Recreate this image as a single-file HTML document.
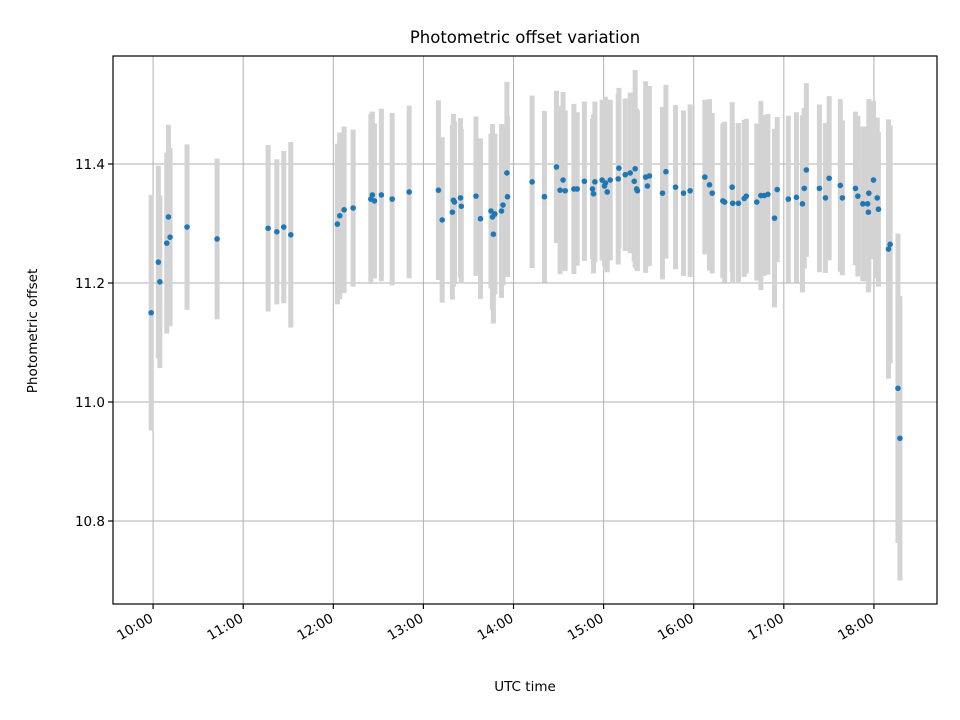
<!DOCTYPE html>
<html><head><meta charset="utf-8"><style>
body{margin:0;background:#fff}
svg{display:block;font-family:"DejaVu Sans","Liberation Sans",sans-serif}
</style></head><body>
<svg id="chart" width="960" height="720" viewBox="0 0 960 720">
<rect x="0" y="0" width="960" height="720" fill="#fff"/>
<g id="grid"></g>
<g id="bars"></g>
<g id="pts"></g>
<rect x="113" y="56" width="824" height="548" fill="none" stroke="#000" stroke-width="1.2"/>
<g id="axes"></g>
<text x="525" y="43" text-anchor="middle" font-size="16.5">Photometric offset variation</text>
<text x="525" y="691" text-anchor="middle" font-size="13.5">UTC time</text>
<text x="37" y="331" text-anchor="middle" font-size="13.5" transform="rotate(-90 37 331)">Photometric offset</text>
</svg>
<script>
// time in minutes of day (UTC)
const times=[598.7,603.5,604.5,609.1,610.2,611.3,622.6,642.6,676.6,682.4,687,691.7,722.7,724.3,727.2,733.2,745,746,747.4,752,759.2,770.5,790,792.5,799.3,800,800.7,804.7,805.2,815,818,825,826,826.6,827.6,832,833,835.6,836,852.4,860.6,868.6,871,873,874.4,880.2,882.4,887.2,892.6,893.3,894.2,899,900.6,901.2,902.4,904.4,909.7,910.2,914.4,917.7,921,920.4,922,922.5,928,929.2,930.5,939.2,941.5,947.9,953.2,957.6,967.4,970.5,972.3,979.4,980.6,985.6,986,989.8,993.6,995,1002,1004.7,1007,1009.4,1013.8,1015.6,1023,1028.4,1032.4,1033.6,1035,1043.7,1047.7,1050.2,1057.6,1059,1067.7,1069.3,1072.6,1076.6,1076.3,1075.8,1079.7,1082.2,1083,1089.7,1090.8,1096,1097.3];
const offsets=[11.150,11.235,11.202,11.267,11.311,11.277,11.294,11.274,11.292,11.286,11.294,11.281,11.299,11.313,11.323,11.326,11.341,11.348,11.338,11.348,11.341,11.353,11.356,11.306,11.319,11.339,11.336,11.343,11.329,11.346,11.308,11.321,11.311,11.282,11.316,11.321,11.331,11.385,11.345,11.370,11.345,11.395,11.356,11.373,11.355,11.358,11.358,11.371,11.358,11.350,11.370,11.373,11.363,11.368,11.353,11.373,11.375,11.393,11.382,11.385,11.392,11.371,11.358,11.355,11.378,11.363,11.380,11.351,11.387,11.361,11.351,11.355,11.378,11.365,11.351,11.338,11.336,11.361,11.334,11.334,11.342,11.346,11.336,11.347,11.347,11.349,11.309,11.357,11.341,11.344,11.333,11.359,11.390,11.359,11.343,11.376,11.364,11.343,11.359,11.346,11.333,11.351,11.319,11.333,11.373,11.343,11.324,11.257,11.265,11.023,10.939];
const errors=[0.198,0.162,0.145,0.152,0.155,0.150,0.139,0.135,0.140,0.122,0.128,0.156,0.135,0.140,0.140,0.132,0.143,0.140,0.130,0.145,0.145,0.145,0.151,0.139,0.147,0.145,0.135,0.134,0.130,0.134,0.135,0.130,0.156,0.150,0.135,0.146,0.135,0.153,0.135,0.145,0.144,0.128,0.141,0.148,0.135,0.143,0.129,0.134,0.118,0.134,0.135,0.135,0.135,0.145,0.135,0.135,0.144,0.135,0.128,0.135,0.166,0.135,0.135,0.135,0.161,0.135,0.151,0.145,0.146,0.138,0.139,0.145,0.130,0.144,0.135,0.130,0.135,0.143,0.135,0.135,0.132,0.130,0.132,0.159,0.135,0.135,0.150,0.122,0.140,0.143,0.149,0.135,0.146,0.141,0.126,0.138,0.145,0.130,0.129,0.135,0.130,0.158,0.135,0.130,0.133,0.135,0.130,0.218,0.200,0.260,0.239];
const yTicks=[10.8,11.0,11.2,11.4];
const xTickLabels=["10:00","11:00","12:00","13:00","14:00","15:00","16:00","17:00","18:00"];

const NS="http://www.w3.org/2000/svg";
const X0=113,X1=937,Y0=56,Y1=604;
const tMin=573.3,tMax=1122.0,vMin=10.6605,vMax=11.5815;
function sx(t){return X0+(t-tMin)/(tMax-tMin)*(X1-X0);}
function sy(v){return Y1-(v-vMin)/(vMax-vMin)*(Y1-Y0);}
function mk(tag,attrs,parent){const e=document.createElementNS(NS,tag);for(const k in attrs)e.setAttribute(k,attrs[k]);parent.appendChild(e);return e;}
const grid=document.getElementById('grid'),axes=document.getElementById('axes'),bars=document.getElementById('bars'),pts=document.getElementById('pts');

yTicks.forEach(v=>{
  const y=sy(v);
  const g=mk('line',{x1:X0,x2:X1,y1:y,y2:y,stroke:'#b0b0b0','stroke-width':1},grid);
  
  
  const t=mk('line',{x1:X0-5,x2:X0,y1:y,y2:y,stroke:'#000','stroke-width':1.2},axes);
  
  
  const l=mk('text',{x:X0-8,y:y+5,'text-anchor':'end','font-size':13.5},axes);
  l.textContent=v.toFixed(1);
  
  
});
xTickLabels.forEach(s=>{
  const p=s.split(':');const x=sx(+p[0]*60+ +p[1]);
  const g=mk('line',{x1:x,x2:x,y1:Y0,y2:Y1,stroke:'#b0b0b0','stroke-width':1},grid);
  
  
  const t=mk('line',{x1:x,x2:x,y1:Y1,y2:Y1+5,stroke:'#000','stroke-width':1.2},axes);
  
  
  const lx=x+1,ly=Y1+17;
  const l=mk('text',{x:lx,y:ly,'text-anchor':'end','font-size':13.5,transform:'rotate(-30 '+lx+' '+ly+')'},axes);
  l.textContent=s;
  
  
});
times.forEach((t,i)=>{
  const x=sx(t),v=offsets[i],e=errors[i];
  const b=mk('line',{x1:x,x2:x,y1:sy(v+e),y2:sy(v-e),stroke:'#d3d3d3','stroke-width':5},bars);
  
  
});
times.forEach((t,i)=>{
  const c=mk('circle',{cx:sx(t),cy:sy(offsets[i]),r:2.8,fill:'#1f77b4'},pts);
  
  
});
</script>
</body></html>
